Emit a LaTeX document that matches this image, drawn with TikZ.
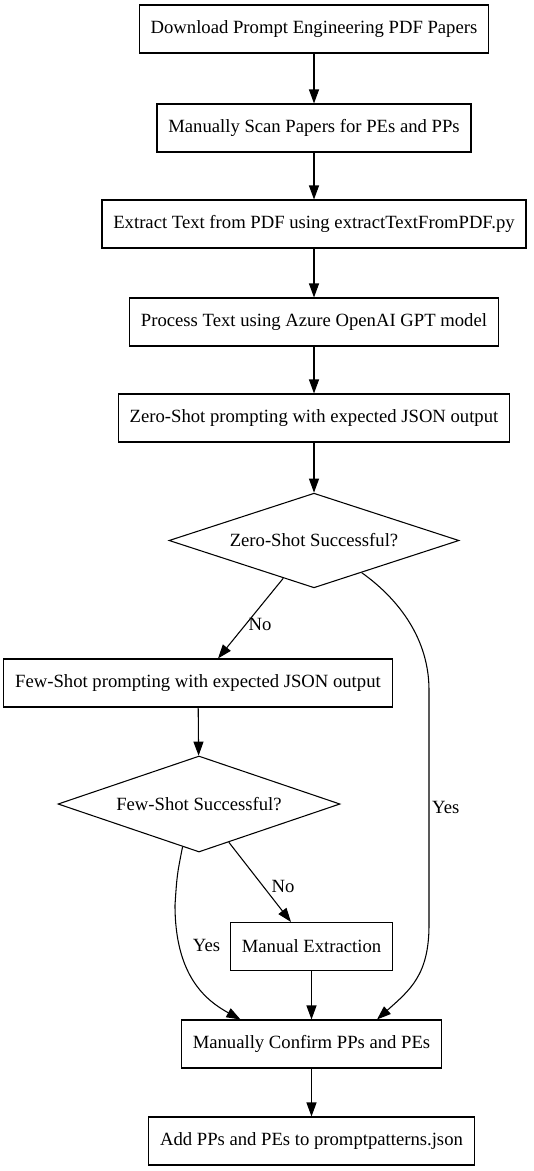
\documentclass[tikz,border=0pt]{standalone}
\usepackage{fontspec}
\setmainfont{Liberation Serif}
\usetikzlibrary{shapes.geometric, arrows.meta, calc}

\begin{document}
\begin{tikzpicture}[
		x=0.75pt, y=-0.75pt,
		font=\fontsize{14}{16}\selectfont,
		box/.style={draw, rectangle, line width=0.8pt, minimum height=36pt, inner xsep=8.5pt},
		decision/.style={draw, diamond, aspect=3, line width=0.8pt, inner sep=0pt},
		arrow/.style={-{Triangle[length=10.5pt, width=7.5pt]}, line width=0.8pt},
		lbl/.style={inner sep=2pt},
	]
	\useasboundingbox (0,0) rectangle (533,1171);

	% main column
	\node[box] (download) at (314, 29) {Download Prompt Engineering PDF Papers};
	\node[box] (scan) at (314, 128) {Manually Scan Papers for PEs and PPs};
	\node[box] (extract) at (314, 224) {Extract Text from PDF using extractTextFromPDF.py};
	\node[box] (process) at (314, 322) {Process Text using Azure OpenAI GPT model};
	\node[box] (zeroshot) at (314, 418) {Zero-Shot prompting with expected JSON output};
	\node[decision, minimum width=217.5pt, minimum height=71pt] (zerook) at (314, 540.5) {Zero-Shot Successful?};

	% few-shot branch
	\node[box] (fewshot) at (198, 683) {Few-Shot prompting with expected JSON output};
	\node[decision, minimum width=211.5pt, minimum height=72pt] (fewok) at (199, 804) {Few-Shot Successful?};
	\node[box] (manual) at (311.5, 946.5) {Manual Extraction};

	% end
	\node[box] (confirm) at (311.5, 1044) {Manually Confirm PPs and PEs};
	\node[box] (addjson) at (311.5, 1141) {Add PPs and PEs to promptpatterns.json};

	\draw[arrow] (download) -- (scan);
	\draw[arrow] (scan) -- (extract);
	\draw[arrow] (extract) -- (process);
	\draw[arrow] (process) -- (zeroshot);
	\draw[arrow] (zeroshot) -- (zerook);
	\draw[arrow] (zerook) -- node[lbl, pos=0.58, right] {No} ($(fewshot.north)+(20,0)$);
	\draw[arrow] (zerook.-34) .. controls (400,600) and (429,640) .. (429,690)
		-- node[lbl, midway, right] {Yes} (429,925)
		.. controls (429,975) and (410,990) .. ($(confirm.north)+(65.5,0)$);
	\draw[arrow] (fewshot) -- (fewok);
	\draw[arrow] (fewok) -- node[lbl, pos=0.55, right=4pt] {No} ($(manual.north)+(-20.5,0)$);
	\draw[arrow] (fewok.-111) .. controls (177,875) .. (175,905)
		.. controls (175,975) and (205,1000) .. node[lbl, pos=0.22, right=8pt] {Yes} ($(confirm.north)+(-71,0)$);
	\draw[arrow] (manual) -- (confirm);
	\draw[arrow] (confirm) -- (addjson);
\end{tikzpicture}
\end{document}
